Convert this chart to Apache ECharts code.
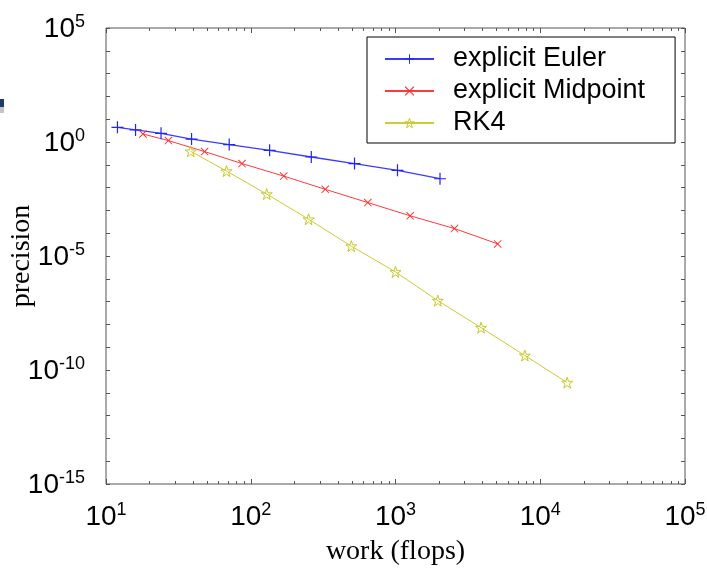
<!DOCTYPE html>
<html>
<head>
<meta charset="utf-8">
<script src="https://cdn.jsdelivr.net/npm/echarts@6/dist/echarts.min.js"></script>
<style>
  html, body { margin: 0; padding: 0; background: #fff; }
  #chart { width: 707px; height: 568px; }
</style>
</head>
<body>
<div id="chart"></div>
<script>
// values
var eulerWork = [12, 16, 24, 39, 71, 135, 262, 521, 1032, 2030]
var eulerErr = [4.4, 3.4, 2.4, 1.35, 0.77, 0.43, 0.22, 0.113, 0.057, 0.0245]
var midWork = [18, 27, 48, 87, 169, 327, 644, 1262, 2553, 5080]
var midErr = [2.24, 1.15, 0.38, 0.113, 0.032, 0.0084, 0.0022, 5.8e-4, 1.6e-4, 3.4e-5]
var rkWork = [38.5, 68, 129, 251, 495, 1000, 1960, 3900, 7830, 15350]
var rkErr = [0.39, 0.053, 0.0052, 4.1e-4, 2.7e-5, 2.0e-6, 1.1e-7, 7.2e-9, 4.3e-10, 2.8e-11]
var seriesNames = ['explicit Euler', 'explicit Midpoint', 'RK4']
var minorX = [20, 30, 40, 50, 60, 70, 80, 90, 200, 300, 400, 500, 600, 700, 800, 900,
  2000, 3000, 4000, 5000, 6000, 7000, 8000, 9000, 20000, 30000, 40000, 50000, 60000, 70000, 80000, 90000]

var axisColor = '#555'
var rich = {
  b: { fontFamily: 'Liberation Sans', fontSize: 28, color: '#000', lineHeight: 30, verticalAlign: 'bottom' },
  s: { fontFamily: 'Liberation Sans', fontSize: 18, color: '#000', lineHeight: 20, verticalAlign: 'top' }
}
function powLabel (v) {
  var e = Math.round(Math.log10(v))
  return '{b|10}{s|' + e + '}'
}
function zip (xs, ys) {
  return xs.map(function (x, i) { return [x, ys[i]] })
}

var plusPath = 'path://M4.5,0h1v10h-1zM0,4.5h10v1h-10z'
var crossPath = 'path://M0,0.8L0.8,0L10,9.2L9.2,10ZM9.2,0L10,0.8L0.8,10L0,9.2Z'
var starPath = 'path://M50,0L61.8,36.2L100,36.2L69.1,58.6L80.9,95L50,72.6L19.1,95L30.9,58.6L0,36.2L38.2,36.2Z'

function xAx (pos, ticks, len, labels) {
  var a = {
    type: 'log', logBase: 10, min: 10, max: 100000, position: pos,
    axisLine: { show: false },
    splitLine: { show: false },
    axisTick: { show: true, inside: true, length: len, lineStyle: { color: axisColor } },
    axisLabel: { show: false }
  }
  if (ticks) a.axisTick.customValues = ticks
  else a.interval = 1
  if (labels) {
    a.axisLabel = { show: true, margin: 17, formatter: powLabel, rich: rich }
    a.name = 'work (flops)'
    a.nameLocation = 'middle'
    a.nameGap = 54
    a.nameMoveOverlap = false
    a.nameTextStyle = { fontFamily: 'Liberation Serif', fontSize: 28, color: '#000' }
  }
  return a
}
function yAx (pos, labels) {
  var a = {
    type: 'log', logBase: 10, min: 1e-15, max: 1e5, interval: 1, position: pos,
    axisLine: { show: false },
    splitLine: { show: false },
    axisTick: { show: true, inside: true, length: 4, lineStyle: { color: axisColor } },
    axisLabel: { show: false }
  }
  if (labels) {
    a.axisLabel = {
      show: true, margin: 21,
      formatter: function (v) {
        var e = Math.round(Math.log10(v))
        return e % 5 === 0 ? powLabel(v) : ''
      },
      rich: rich
    }
    a.name = 'precision'
    a.nameLocation = 'middle'
    a.nameGap = 70
    a.nameMoveOverlap = false
    a.nameTextStyle = { fontFamily: 'Liberation Serif', fontSize: 28, color: '#000' }
  }
  return a
}

var chart = echarts.init(document.getElementById('chart'))
var option = {
  animation: false,
  backgroundColor: '#fff',
  grid: {
    left: 106, top: 28, right: 22, bottom: 84,
    outerBoundsMode: 'none',
    containLabel: false,
    show: true, borderColor: axisColor, borderWidth: 1, backgroundColor: '#fff'
  },
  xAxis: [
    xAx('bottom', null, 5, true),
    xAx('bottom', minorX, 3, false),
    xAx('top', null, 5, false),
    xAx('top', minorX, 3, false)
  ],
  yAxis: [
    yAx('left', true),
    yAx('right', false)
  ],
  legend: {
    orient: 'vertical',
    left: 367, top: 37,
    padding: [7, 30, 5, 17],
    itemGap: 2,
    itemWidth: 49,
    itemHeight: 12,
    backgroundColor: '#fff',
    borderColor: '#000',
    borderWidth: 1,
    borderRadius: 0,
    textStyle: { fontFamily: 'Liberation Sans', fontSize: 27, lineHeight: 30, color: '#000', padding: [0, 0, 0, 14] },
    data: [
      { name: seriesNames[0] },
      { name: seriesNames[1] },
      { name: seriesNames[2], itemStyle: { color: 'rgba(255,255,255,0)', borderColor: '#c8c82a', borderWidth: 1 } }
    ]
  },
  graphic: [
    { type: 'rect', shape: { x: 0, y: 99, width: 4, height: 8 }, style: { fill: '#1f3b63' } },
    { type: 'rect', shape: { x: 0, y: 107, width: 4, height: 6 }, style: { fill: '#c4c4c4' } }
  ],
  series: [
    {
      name: seriesNames[0], type: 'line', data: zip(eulerWork, eulerErr),
      symbol: plusPath, symbolSize: 12,
      itemStyle: { color: '#2222ff' },
      lineStyle: { color: '#3b3bff', width: 1.3 }
    },
    {
      name: seriesNames[1], type: 'line', data: zip(midWork, midErr),
      symbol: crossPath, symbolSize: 8,
      itemStyle: { color: '#ff2a2a' },
      lineStyle: { color: '#ff3a3a', width: 1 }
    },
    {
      name: seriesNames[2], type: 'line', data: zip(rkWork, rkErr),
      symbol: starPath, symbolSize: 11,
      itemStyle: { color: 'rgba(255,255,255,0)', borderColor: '#c8c82a', borderWidth: 1 },
      lineStyle: { color: '#cccc33', width: 1 }
    }
  ]
}
chart.setOption(option)
</script>
</body>
</html>
